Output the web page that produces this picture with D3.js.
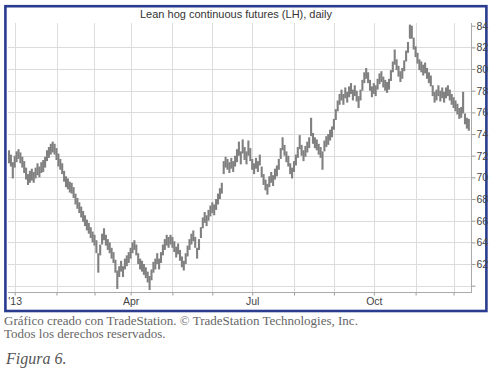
<!DOCTYPE html>
<html>
<head>
<meta charset="utf-8">
<script src="https://cdn.jsdelivr.net/npm/d3@7"></script>
<style>
  html, body { margin: 0; padding: 0; background: #fff; }
  svg { display: block; }
</style>
</head>
<body>
<svg id="chart" width="500" height="369"></svg>
<script>
// ---- data ----
const title = "Lean hog continuous futures (LH), daily";
// daily highs / lows, bar index 0 = last days of Dec 2012
const highs = [
72.5,72.1,71.4,72.0,72.4,72.6,72.3,71.9,71.5,70.9,
70.3,70.6,70.8,70.5,70.9,71.3,71.0,71.4,71.6,71.9,
72.5,72.8,73.1,73.3,73.1,72.7,72.2,71.7,71.3,70.6,
70.1,69.9,69.6,69.5,69.1,68.5,68.1,67.7,67.3,66.9,
66.5,66.1,65.8,65.4,65.0,64.7,64.2,63.0,63.8,64.8,
65.3,64.7,64.3,64.0,63.5,63.1,62.4,61.4,61.8,62.3,
61.8,62.5,62.8,63.1,63.5,64.0,64.2,63.8,63.0,62.5,
62.3,62.0,61.7,61.3,60.9,61.5,62.2,62.5,63.0,62.5,
63.1,63.8,64.3,64.7,64.5,64.7,64.5,64.1,63.6,63.9,
63.3,62.7,62.3,63.0,63.7,64.3,64.8,65.1,64.5,63.5,
64.3,65.4,66.3,66.8,66.5,67.0,67.4,67.7,67.5,68.0,
68.5,69.0,69.5,71.5,71.9,71.7,71.4,71.8,71.5,72.0,
72.6,73.3,72.4,73.5,72.8,72.4,73.4,72.7,71.7,71.3,
71.8,71.5,72.1,71.0,70.3,69.8,69.4,70.1,70.5,70.2,
70.8,71.1,71.7,72.7,73.7,73.0,72.4,72.0,71.3,70.9,
71.5,72.1,72.8,73.9,73.0,72.5,72.9,73.3,73.7,75.5,
74.1,73.7,73.5,73.1,72.8,72.4,73.4,73.8,74.0,74.4,
74.7,75.4,76.3,77.1,77.7,78.1,77.7,78.3,77.9,78.4,
78.7,78.1,78.5,78.0,77.5,78.1,79.0,79.7,80.1,79.7,
79.0,78.4,78.7,78.5,79.1,79.6,79.8,79.3,79.0,78.8,
79.1,79.9,80.7,81.8,80.9,80.3,79.8,80.1,80.8,81.7,
82.5,84.1,84.0,82.9,82.1,81.5,80.9,80.7,80.4,80.6,
80.1,79.7,79.4,78.5,77.9,78.1,78.5,78.0,78.3,77.9,
78.3,78.5,78.1,77.7,77.4,77.1,76.8,76.4,76.5,77.9,
75.9,75.5,75.4
];
const lows = [
71.3,71.0,69.9,70.9,71.4,71.7,71.3,70.9,70.4,69.8,
69.3,69.5,69.7,69.5,69.9,70.2,70.0,70.4,70.5,70.9,
71.5,71.8,72.1,72.3,72.1,71.6,71.0,70.7,70.3,69.6,
69.1,68.9,68.6,68.5,68.1,67.5,67.1,66.7,66.3,65.9,
65.5,65.1,64.8,64.4,64.0,63.7,63.0,61.2,62.8,63.8,
64.2,63.7,63.3,63.0,62.5,62.1,61.2,59.7,60.8,61.3,
60.8,61.5,61.8,62.1,62.5,63.0,63.3,62.8,62.0,61.5,
61.3,61.0,60.7,60.3,59.6,60.5,61.2,61.5,62.0,61.5,
62.1,62.8,63.3,63.7,63.5,63.8,63.5,63.1,62.6,62.9,
62.3,61.7,61.4,62.0,62.7,63.3,63.8,64.1,63.5,62.5,
63.3,64.4,65.3,65.8,65.5,66.0,66.4,66.7,66.5,67.0,
67.5,68.0,68.5,70.3,70.9,70.7,70.4,70.8,70.5,71.0,
71.4,72.0,71.2,72.2,71.6,71.2,72.0,71.5,70.7,70.3,
70.8,70.5,71.1,70.0,69.3,68.8,68.4,69.1,69.5,69.2,
69.8,70.1,70.7,71.7,72.5,72.0,71.4,71.0,70.3,69.9,
70.5,71.1,71.8,72.6,72.0,71.5,71.9,72.3,72.7,73.8,
73.1,72.7,72.5,72.1,71.8,70.7,72.4,72.8,73.0,73.4,
73.7,74.4,75.3,76.1,76.7,77.1,76.7,77.3,76.9,77.4,
77.7,77.1,77.5,77.0,76.4,77.1,78.0,78.7,79.1,78.7,
78.0,77.4,77.7,77.5,78.1,78.6,78.8,78.3,78.0,77.8,
78.1,78.9,79.7,80.4,79.9,79.3,78.8,79.1,79.8,80.7,
81.5,82.8,82.8,81.8,81.1,80.5,79.9,79.7,79.4,79.6,
79.1,78.7,78.4,77.5,76.9,77.1,77.5,77.0,77.3,76.9,
77.3,77.5,77.1,76.7,76.4,76.1,75.8,75.4,75.5,75.9,
74.9,74.5,74.3
];
// price axis ticks (60 has a tick but no label)
const priceTicks = [60,62,64,66,68,70,72,74,76,78,80,82,84];
// month boundaries as bar indices, with labels
const monthTickIdx    = [3, 25, 45, 64, 86, 107, 128, 150, 171, 192, 214, 234];
const monthTickLabels = ["'13", "", "", "Apr", "", "", "Jul", "", "", "Oct", "", ""];
const captionLines = [
  "Gráfico creado con TradeStation. © TradeStation Technologies, Inc.",
  "Todos los derechos reservados."
];
const figureLabel = "Figura 6.";

// ---- layout ----
const svg = d3.select("#chart");
const plot = { left: 8, right: 471, top: 23, bottom: 292 };
const x = d3.scaleLinear().domain([0, 243]).range([9, 470.7]);
const y = d3.scaleLinear().domain([60, 84]).range([285.7, 25.7]);

// frame
svg.append("rect")
  .attr("x", 5.4).attr("y", 6.2).attr("width", 481).attr("height", 304.8)
  .attr("fill", "#fff").attr("stroke", "#2a3c8f").attr("stroke-width", 2.6);

// grid
const grid = svg.append("g").attr("stroke", "#dcdcdc").attr("stroke-width", 1);
grid.selectAll("line.h").data(priceTicks.filter(v => v < 84)).join("line")
  .attr("x1", plot.left).attr("x2", plot.right)
  .attr("y1", d => Math.round(y(d)) + 0.5).attr("y2", d => Math.round(y(d)) + 0.5);
grid.selectAll("line.v").data(monthTickIdx).join("line")
  .attr("y1", plot.top).attr("y2", plot.bottom)
  .attr("x1", d => Math.round(x(d)) + 0.5).attr("x2", d => Math.round(x(d)) + 0.5);

// bars
const bars = d3.range(highs.length);
svg.append("g").selectAll("line").data(bars).join("line")
  .attr("x1", i => x(i)).attr("x2", i => x(i))
  .attr("y1", i => y(highs[i])).attr("y2", i => y(lows[i]))
  .attr("stroke", "#808080").attr("stroke-width", 2.1);

// right axis
const yAxis = d3.axisRight(y).tickValues(priceTicks).tickSize(4).tickPadding(1)
  .tickFormat(d => d === 60 ? "" : d);
const ya = svg.append("g").attr("transform", `translate(${plot.right + 0.5},0)`).call(yAxis);
ya.select(".domain").remove();
ya.selectAll(".tick line").attr("stroke", "#999");
ya.selectAll(".tick text").attr("fill", "#444")
  .style("font-family", "'Liberation Sans', Arial, sans-serif").style("font-size", "10.5px");
svg.append("line").attr("x1", plot.right + 0.5).attr("x2", plot.right + 0.5)
  .attr("y1", plot.top).attr("y2", plot.bottom).attr("stroke", "#aaa");

// bottom axis
const xAxis = d3.axisBottom(x).tickValues(monthTickIdx).tickSize(3).tickPadding(2)
  .tickFormat((d, k) => monthTickLabels[k]);
const xa = svg.append("g").attr("transform", `translate(0,${plot.bottom + 0.5})`).call(xAxis);
xa.select(".domain").remove();
xa.selectAll(".tick line").attr("stroke", "#999");
xa.selectAll(".tick text").attr("fill", "#444")
  .style("font-family", "'Liberation Sans', Arial, sans-serif").style("font-size", "10.5px");
svg.append("line").attr("x1", plot.left).attr("x2", plot.right + 1)
  .attr("y1", plot.bottom + 0.5).attr("y2", plot.bottom + 0.5).attr("stroke", "#aaa");

// title
svg.append("text").attr("x", 236).attr("y", 17.5).attr("text-anchor", "middle")
  .style("font-family", "'Liberation Sans', Arial, sans-serif").style("font-size", "11px")
  .attr("fill", "#333").text(title);

// caption
svg.selectAll("text.cap").data(captionLines).join("text")
  .attr("x", 4).attr("y", (d, k) => 324.5 + k * 13.5)
  .style("font-family", "'Liberation Serif', 'Times New Roman', serif").style("font-size", "13px")
  .attr("fill", "#666").text(d => d);
svg.append("text").attr("x", 6).attr("y", 364)
  .style("font-family", "'Liberation Serif', 'Times New Roman', serif").style("font-size", "16px")
  .style("font-style", "italic").attr("fill", "#555").text(figureLabel);
</script>
</body>
</html>
